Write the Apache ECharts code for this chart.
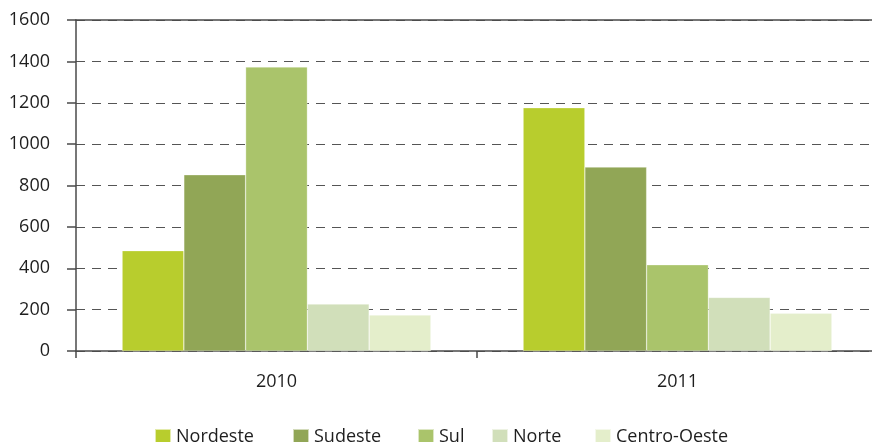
<!DOCTYPE html>
<html>
<head>
<meta charset="utf-8">
<script src="https://cdn.jsdelivr.net/npm/echarts@6/dist/echarts.min.js"></script>
<style>
html,body{margin:0;padding:0;background:#fff;}
#chart{width:872px;height:442px;}
</style>
</head>
<body>
<div id="chart"></div>
<script>
const categories = ['2010', '2011'];
const seriesNames = ['Nordeste', 'Sudeste', 'Sul', 'Norte', 'Centro-Oeste'];
const nordeste = [485, 1176];
const sudeste = [852, 889];
const sul = [1373, 417];
const norte = [227, 259];
const centroOeste = [174, 182];
const colors = ['#b8cd2d', '#91a656', '#aac46b', '#d1dfba', '#e4eecb'];
const yTicks = { min: 0, max: 1600, interval: 200 };

const values = [nordeste, sudeste, sul, norte, centroOeste];
const legendLefts = [154, 292, 417, 491, 594];
const font = 'Open Sans';
const chart = echarts.init(document.getElementById('chart'), null, { renderer: 'canvas' });
chart.setOption({
  animation: false,
  color: colors,
  grid: { left: 76, top: 20, width: 802, height: 331, containLabel: false, outerBoundsMode: 'none' },
  legend: seriesNames.map((name, i) => ({
    left: legendLefts[i], top: 428, padding: 0,
    itemWidth: 16, itemHeight: 16,
    icon: 'rect',
    textStyle: { fontFamily: font, fontSize: 18, color: '#1e1e1e', padding: [0, 0, 0, 0] },
    data: [name]
  })),
  xAxis: [{
    type: 'category',
    data: categories,
    axisLine: { lineStyle: { color: '#4a4a4a', width: 1.5 } },
    axisTick: { show: true, length: 7, lineStyle: { color: '#4a4a4a', width: 1.5 } },
    axisLabel: { fontFamily: font, fontSize: 18, color: '#1e1e1e', margin: 22 }
  }, {
    type: 'category',
    position: 'top',
    data: categories,
    axisLine: { show: true, lineStyle: { color: '#4a4a4a', width: 1.5 } },
    axisTick: { show: false },
    axisLabel: { show: false }
  }],
  yAxis: {
    type: 'value',
    min: yTicks.min, max: yTicks.max, interval: yTicks.interval,
    axisLine: { show: true, lineStyle: { color: '#4a4a4a', width: 1.5 } },
    axisTick: { show: true, length: 9, lineStyle: { color: '#4a4a4a', width: 1.5 } },
    axisLabel: { fontFamily: font, fontSize: 18, color: '#1e1e1e', margin: 26, formatter: v => String(v) },
    splitLine: {
      show: true,
      lineStyle: { color: '#555', width: 1.2, type: [9, 7] }
    }
  },
  series: seriesNames.map((name, i) => ({
    name: name,
    type: 'bar',
    data: values[i],
    barGap: '0%',
    barCategoryGap: '23%',
    itemStyle: { color: colors[i], borderColor: 'rgba(255,255,255,0.6)', borderWidth: 0.5 }
  }))
});
</script>
</body>
</html>
